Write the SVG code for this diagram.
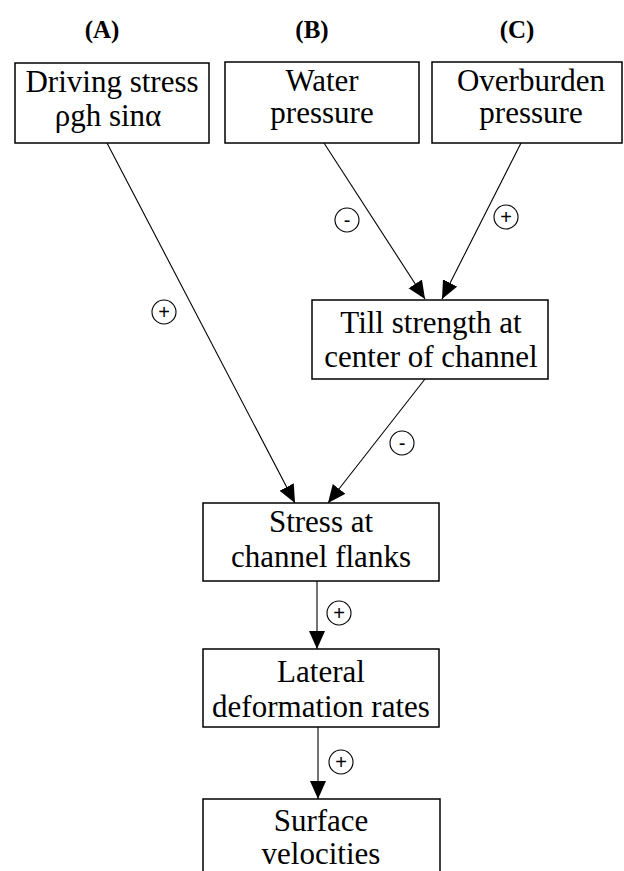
<svg xmlns="http://www.w3.org/2000/svg" width="624" height="871" viewBox="0 0 624 871">
<style>
.box{fill:#fff;stroke:#000;stroke-width:1.5}
.t{font-family:'Liberation Serif','Times New Roman','DejaVu Serif',serif;font-size:31px;fill:#000;text-anchor:middle}
.h{font-family:'Liberation Serif','Times New Roman','DejaVu Serif',serif;font-size:25px;font-weight:bold;fill:#000;text-anchor:middle}
.edge{stroke:#000;stroke-width:1.1;fill:none;marker-end:url(#arr)}
.sign circle{fill:#fff;stroke:#000;stroke-width:1.1}
.sign text{font-family:'Liberation Sans',Arial,sans-serif;font-size:20px;fill:#000;text-anchor:middle}
</style>
<defs>
<marker id="arr" markerUnits="userSpaceOnUse" markerWidth="20" markerHeight="18" refX="18" refY="8" orient="auto">
<path d="M0,0 L18,8 L0,16 Z" fill="#000"/>
</marker>
</defs>
<g id="labels">
<text class="h" x="102" y="38">(A)</text>
<text class="h" x="312" y="38">(B)</text>
<text class="h" x="517" y="38">(C)</text>
</g>
<g id="connectors">
<line class="edge" x1="107" y1="143" x2="295" y2="503"/>
<line class="edge" x1="324" y1="143" x2="425" y2="299"/>
<line class="edge" x1="521" y1="143" x2="442" y2="299"/>
<line class="edge" x1="425" y1="379" x2="328" y2="503"/>
<line class="edge" x1="317" y1="581" x2="317" y2="649"/>
<line class="edge" x1="318" y1="727" x2="318" y2="799"/>
</g>
<g id="signs">
<g class="sign"><circle cx="347" cy="220" r="12"/><text x="347" y="227">-</text></g>
<g class="sign"><circle cx="506" cy="217" r="12"/><text x="506" y="224">+</text></g>
<g class="sign"><circle cx="164" cy="312" r="12"/><text x="164" y="319">+</text></g>
<g class="sign"><circle cx="402" cy="443" r="12"/><text x="402" y="450">-</text></g>
<g class="sign"><circle cx="339" cy="613" r="12"/><text x="339" y="620">+</text></g>
<g class="sign"><circle cx="341" cy="762" r="12"/><text x="341" y="769">+</text></g>
</g>
<g id="driving">
<rect class="box" x="15" y="63" width="194" height="80"/>
<text class="t" x="112" y="92">Driving stress</text>
<text class="t" x="108" y="126">ρgh sinα</text>
</g>
<g id="water">
<rect class="box" x="225" y="62" width="194" height="81"/>
<text class="t" x="322" y="91">Water</text>
<text class="t" x="322" y="123">pressure</text>
</g>
<g id="overburden">
<rect class="box" x="432" y="62" width="190" height="81"/>
<text class="t" x="531" y="91">Overburden</text>
<text class="t" x="531" y="123">pressure</text>
</g>
<g id="till">
<rect class="box" x="312" y="300" width="236" height="79"/>
<text class="t" x="431" y="333">Till strength at</text>
<text class="t" x="431" y="367">center of channel</text>
</g>
<g id="stress">
<rect class="box" x="203" y="503" width="236" height="78"/>
<text class="t" x="321" y="532">Stress at</text>
<text class="t" x="321" y="567">channel flanks</text>
</g>
<g id="lateral">
<rect class="box" x="203" y="649" width="236" height="78"/>
<text class="t" x="321" y="682">Lateral</text>
<text class="t" x="321" y="717">deformation rates</text>
</g>
<g id="surface">
<rect class="box" x="203" y="799" width="237" height="80"/>
<text class="t" x="321" y="831">Surface</text>
<text class="t" x="321" y="864">velocities</text>
</g>
</svg>
